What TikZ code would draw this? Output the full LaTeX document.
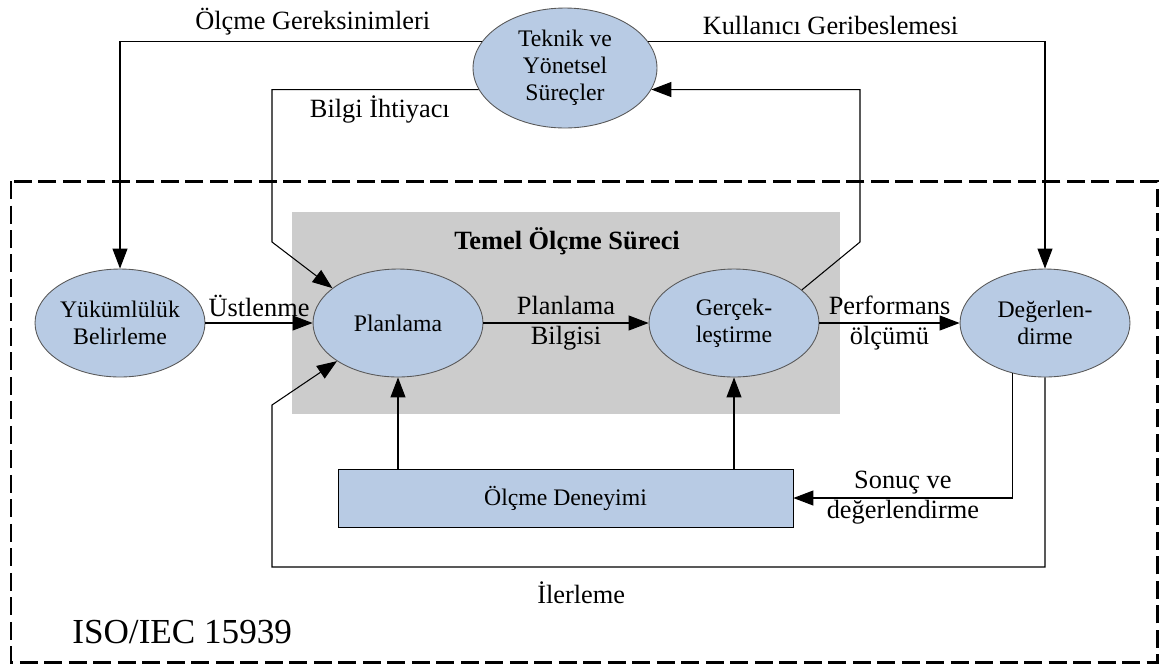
\documentclass[tikz,border=0pt]{standalone}
\usepackage{fontspec}
\setmainfont{Liberation Serif}
\usetikzlibrary{shapes,arrows.meta,positioning}

\definecolor{surecmavi}{RGB}{184,203,228}
\definecolor{cekirdekgri}{RGB}{204,204,204}

\tikzset{
  surec/.style={ellipse, draw=black!65, line width=0.5pt, fill=surecmavi, inner sep=0pt,
    minimum width=3.4cm, minimum height=2.16cm, align=center,
    font=\fontsize{13.5}{15.5}\selectfont},
  kutu/.style={rectangle, draw=black, line width=0.5pt, fill=surecmavi, inner sep=0pt,
    minimum width=9.1cm, minimum height=1.16cm, font=\fontsize{13.5}{15.5}\selectfont},
  etiket/.style={align=center, font=\fontsize{15}{17}\selectfont}
}

\begin{document}
\begin{tikzpicture}[x=0.02cm, y=-0.02cm, line width=0.6pt,
    >={Triangle[length=0.4cm,width=0.3cm]}]
  \useasboundingbox (0,0) rectangle (1159,664);
  % dis cerceve ve temel surec alani
  \draw[line width=1.7pt, dash pattern=on 0.36cm off 0.13cm] (11,181) rectangle (1157,662);
  \fill[cekirdekgri] (292,212) rectangle (840,414);
  \node[font=\bfseries\fontsize{15}{17}\selectfont] (BASLIK) at (567,241) {Temel Ölçme Süreci};
  \node[anchor=west, font=\fontsize{20}{24}\selectfont] (ISO) at (66,632) {ISO/IEC 15939};

  % surecler
  \node[surec, minimum width=3.68cm, minimum height=2.4cm] (TEKNIK) at (565,68) {Teknik ve\\Yönetsel\\Süreçler};
  \node[surec] (YUKUM) at (120,323) {Yükümlülük\\Belirleme};
  \node[surec] (PLAN) at (398,323) {Planlama};
  \node[surec] (GERCEK) at (734,323) {Gerçek-\\leştirme};
  \node[surec] (DEGER) at (1045,323) {Değerlen-\\dirme};
  \node[kutu] (DENEYIM) at (565.5,498) {Ölçme Deneyimi};

  % kirik baglantilarin donum noktalari
  \coordinate (bk) at (272,242);
  \coordinate (gk) at (860,242);
  \coordinate (ik1) at (272,567);
  \coordinate (ik2) at (272,405);

  \draw[->] (TEKNIK.162) -| node[etiket, above, pos=0.234] {Ölçme Gereksinimleri} (YUKUM.north);
  \draw[->] (TEKNIK.194) -| node[etiket, below, pos=0.239] {Bilgi İhtiyacı} (bk) -- (PLAN.152);
  \draw[->] (TEKNIK.18) -| node[etiket, above, pos=0.23] {Kullanıcı Geribeslemesi} (DEGER.north);
  \draw[->] (GERCEK.26) -- (gk) |- (TEKNIK.-14);

  \draw[->] (YUKUM) -- node[etiket, above] {Üstlenme} (PLAN);
  \draw[->] (PLAN) -- node[etiket] {Planlama\\Bilgisi} (GERCEK);
  \draw[->] (GERCEK) -- node[etiket] {Performans\\ölçümü} (DEGER);

  \draw[->] (DENEYIM.north -| PLAN.south) -- (PLAN.south);
  \draw[->] (DENEYIM.north -| GERCEK.south) -- (GERCEK.south);
  \draw[->] (DEGER.237) |- node[etiket, pos=0.75] {Sonuç ve\\değerlendirme} (DENEYIM.east);
  \draw[->] (DEGER.south) |- node[etiket, below=5pt, pos=0.8] {İlerleme} (ik1) -- (ik2) -- (PLAN.212);
\end{tikzpicture}
\end{document}
